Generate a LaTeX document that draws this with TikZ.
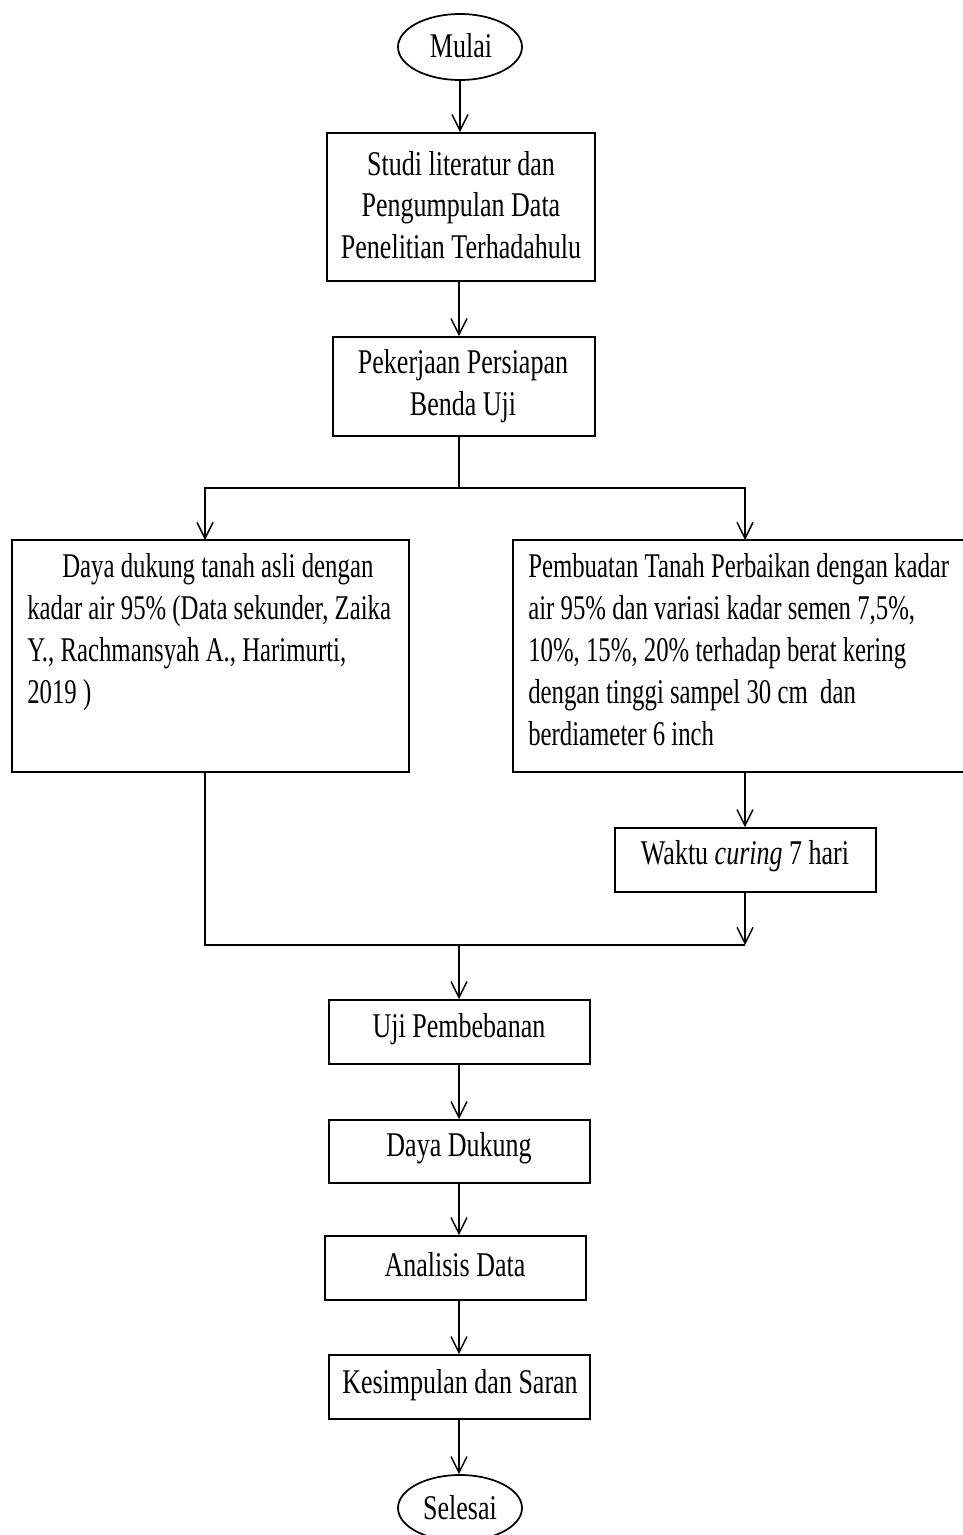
\documentclass[tikz,border=0pt]{standalone}
\usepackage{fontspec}
\setmainfont{Liberation Serif}[FakeStretch=0.75]
\newfontfamily\narrowfont{Liberation Serif}[FakeStretch=0.715]
\usetikzlibrary{arrows.meta,fit,shapes.geometric}
\tikzset{
  box/.style={draw, line width=1.3pt, inner sep=0pt, rectangle},
  oval/.style={draw, line width=1.3pt, ellipse, inner sep=0pt, minimum width=93pt, minimum height=49.5pt},
  txt/.style={inner sep=0pt, align=center, font=\fontsize{26}{31}\selectfont},
  ltxt/.style={inner sep=0pt, align=left, anchor=north west, font=\narrowfont\fontsize{26}{31.5}\selectfont},
  line/.style={line width=1.3pt},
  arr/.style={line width=1.3pt, -{Straight Barb[length=12pt,width=12pt,line width=1.1pt]}}
}
\begin{document}
\begin{tikzpicture}[x=0.75pt,y=-0.75pt]
\useasboundingbox (0,0) rectangle (963,1535);
\clip (0,0) rectangle (963,1535);
% nodes
\node[oval] (mulai) at (460,47) {};
\node[txt] (tmulai) at (461,46) {Mulai};

\node[box, fit={(327,133) (595,281)}] (b1) {};
\node[txt] (tb1) at (461,205) {Studi literatur dan\\Pengumpulan Data\\Penelitian Terhadahulu};

\node[box, fit={(333,337) (595,436)}] (b2) {};
\node[txt] (tb2) at (463,386) {Pekerjaan Persiapan\\Benda Uji};

\node[box, fit={(12,540) (409,772)}] (kiri) {};
\node[ltxt] (tkiri) at (27,553) {\hspace*{35\dimexpr0.75pt\relax}Daya dukung tanah asli dengan\\kadar air 95\% (Data sekunder, Zaika\\Y., Rachmansyah A., Harimurti,\\2019 )};

\node[box, fit={(513,540) (985,772)}] (kanan) {};
\node[ltxt] (tkanan) at (528,553) {Pembuatan Tanah Perbaikan dengan kadar\\air 95\% dan variasi kadar semen 7,5\%,\\10\%, 15\%, 20\% terhadap berat kering\\dengan tinggi sampel 30 cm\ \ dan\\berdiameter 6 inch};

\node[box, fit={(615,828) (876,892)}] (waktu) {};
\node[txt] (twaktu) at (745,856) {Waktu \textit{curing} 7 hari};

\node[box, fit={(329,1000) (590,1064)}] (uji) {};
\node[txt] (tuji) at (459,1029) {Uji Pembebanan};

\node[box, fit={(329,1120) (590,1183)}] (dd) {};
\node[txt] (tdd) at (459,1148) {Daya Dukung};

\node[box, fit={(325,1236) (586,1300)}] (an) {};
\node[txt] (tan) at (455,1265) {Analisis Data};

\node[box, fit={(329,1355) (590,1419)}] (ks) {};
\node[txt] (tks) at (460,1385) {Kesimpulan dan Saran};

\node[oval] (selesai) at (460,1508) {};
\node[txt] (tselesai) at (460,1508) {Selesai};

% coordinates
\coordinate (sp) at (459,488);
\coordinate (kl) at (205,540);
\coordinate (kr) at (745,540);
\coordinate (jr) at (745,945);
\coordinate (jl) at (205,945);
\coordinate (jm) at (459,945);

% connectors
\draw[arr] (mulai.south) -- (mulai.south |- b1.north);
\draw[arr] (b1.south -| sp) -- (sp |- b2.north);
\draw[line] (b2.south -| sp) -- (sp);
\draw[arr] (sp) -| (kl);
\draw[arr] (sp) -| (kr);
\draw[arr] (kanan.south -| kr) -- (waktu.north -| kr);
\draw[arr] (waktu.south -| kr) -- (jr);
\draw[line] (kiri.south -| kl) -- (jl) -- (jr);
\draw[arr] (jm) -- (jm |- uji.north);
\draw[arr] (uji.south -| jm) -- (jm |- dd.north);
\draw[arr] (dd.south -| jm) -- (jm |- an.north);
\draw[arr] (an.south -| jm) -- (jm |- ks.north);
\draw[arr] (ks.south -| jm) -- (jm |- selesai.north);
\end{tikzpicture}
\end{document}
